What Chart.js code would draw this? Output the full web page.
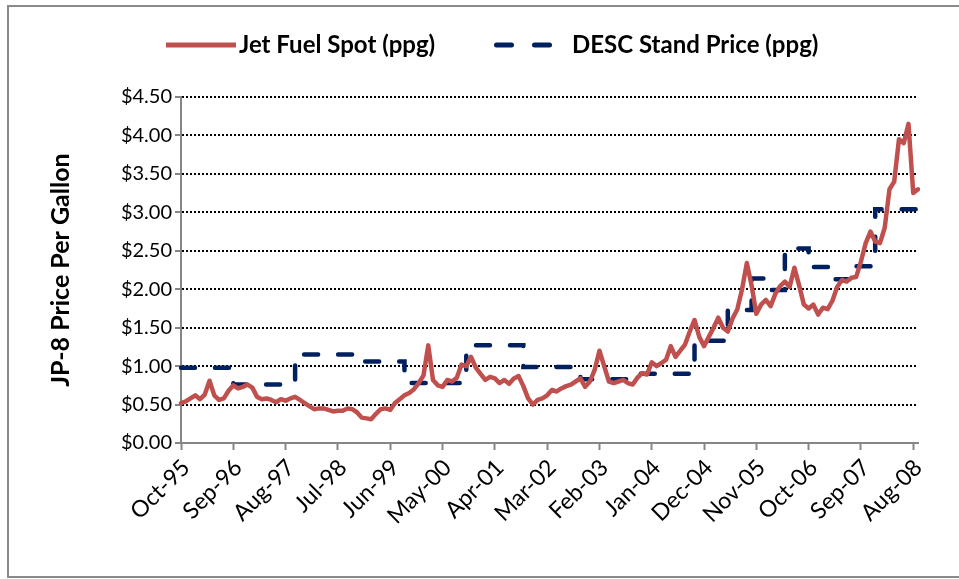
<!DOCTYPE html>
<html>
<head>
<meta charset="utf-8">
<script src="https://cdn.jsdelivr.net/npm/chart.js@4.4.1/dist/chart.umd.min.js"></script>
<style>
  html, body { margin: 0; padding: 0; background: #fff; }
  canvas { display: block; }
</style>
</head>
<body>
<canvas id="fuelChart" width="959" height="579"></canvas>
<script>
// tick labels shown on the x axis (every 11 months)
const tickLabels = ["Oct-95", "Sep-96", "Aug-97", "Jul-98", "Jun-99", "May-00", "Apr-01", "Mar-02",
  "Feb-03", "Jan-04", "Dec-04", "Nov-05", "Oct-06", "Sep-07", "Aug-08"];

// monthly categories Oct-95 .. Sep-08
const monthNames = ["Jan", "Feb", "Mar", "Apr", "May", "Jun", "Jul", "Aug", "Sep", "Oct", "Nov", "Dec"];
const months = [];
for (let i = 0; i < 156; i++) {
  const m = 9 + i;
  const yr = (1995 + Math.floor(m / 12)) % 100;
  months.push(monthNames[m % 12] + "-" + String(yr).padStart(2, "0"));
}

// Jet fuel spot, $ per gallon
const jetFuel = [
  0.52, 0.54, 0.58, 0.62, 0.57, 0.63, 0.81, 0.62, 0.56, 0.58, 0.68, 0.75,
  0.71, 0.73, 0.76, 0.72, 0.60, 0.57, 0.58, 0.56, 0.53, 0.57, 0.55, 0.58,
  0.60, 0.56, 0.52, 0.48, 0.44, 0.45, 0.45, 0.43, 0.41, 0.42, 0.42, 0.45,
  0.44, 0.40, 0.33, 0.32, 0.31, 0.38, 0.44, 0.45, 0.43, 0.52, 0.57, 0.62,
  0.65, 0.70, 0.78, 0.88, 1.27, 0.82, 0.75, 0.73, 0.82, 0.80, 0.85, 1.02,
  1.00, 1.12, 0.98, 0.90, 0.82, 0.86, 0.84, 0.78, 0.82, 0.77, 0.84, 0.87,
  0.74, 0.58, 0.50, 0.56, 0.58, 0.62, 0.69, 0.67, 0.71, 0.74, 0.76, 0.80,
  0.84, 0.73, 0.80, 0.95, 1.20, 1.00, 0.80, 0.78, 0.80, 0.82, 0.78, 0.76,
  0.85, 0.91, 0.89, 1.05, 1.00, 1.04, 1.08, 1.26, 1.12, 1.20, 1.28, 1.45,
  1.60, 1.38, 1.26, 1.38, 1.50, 1.63, 1.50, 1.45, 1.62, 1.74, 2.00, 2.34,
  2.05, 1.68, 1.80, 1.86, 1.78, 1.94, 2.04, 2.10, 2.03, 2.28, 2.05, 1.80,
  1.75, 1.80, 1.67, 1.76, 1.74, 1.85, 2.03, 2.12, 2.10, 2.15, 2.16, 2.36,
  2.60, 2.75, 2.62, 2.60, 2.80, 3.30, 3.40, 3.95, 3.90, 4.15, 3.25, 3.30
];

// DESC standard price, $ per gallon
const descPrice = [
  0.98, 0.98, 0.98, 0.98, 0.98, 0.98, 0.98, 0.98, 0.98, 0.98, 0.98, 0.76,
  0.76, 0.76, 0.76, 0.76, 0.76, 0.76, 0.76, 0.76, 0.76, 0.76, 0.76, 0.76,
  1.15, 1.15, 1.15, 1.15, 1.15, 1.15, 1.15, 1.15, 1.15, 1.15, 1.15, 1.15,
  1.06, 1.06, 1.06, 1.06, 1.06, 1.06, 1.06, 1.06, 1.06, 1.06, 1.06, 0.78,
  0.78, 0.78, 0.78, 0.78, 0.78, 0.78, 0.78, 0.78, 0.78, 0.78, 0.78, 0.78,
  1.27, 1.27, 1.27, 1.27, 1.27, 1.27, 1.27, 1.27, 1.27, 1.27, 1.27, 1.27,
  0.99, 0.99, 0.99, 0.99, 0.99, 0.99, 0.99, 0.99, 0.99, 0.99, 0.99, 0.99,
  0.83, 0.83, 0.83, 0.83, 0.83, 0.83, 0.83, 0.83, 0.83, 0.83, 0.83, 0.83,
  0.90, 0.90, 0.90, 0.90, 0.90, 0.90, 0.90, 0.90, 0.90, 0.90, 0.90, 0.90,
  1.33, 1.33, 1.33, 1.33, 1.33, 1.33, 1.33, 1.73, 1.73, 1.73, 1.73, 1.73,
  2.14, 2.14, 2.14, 1.99, 1.99, 1.99, 1.99, 2.53, 2.53, 2.53, 2.53, 2.53,
  2.29, 2.29, 2.29, 2.29, 2.29, 2.13, 2.13, 2.13, 2.13, 2.13, 2.30, 2.30,
  2.30, 2.30, 3.04, 3.04, 3.04, 3.04, 3.04, 3.04, 3.04, 3.04, 3.04, 3.04
];

const RED = "#C0504D";
const NAVY = "#002060";
const AXIS = "#868686";
const FONT = "Lato";

// white background + outer frame
const framePlugin = {
  id: "frame",
  beforeDraw(chart) {
    const ctx = chart.ctx;
    ctx.save();
    ctx.fillStyle = "#fff";
    ctx.fillRect(0, 0, chart.width, chart.height);
    ctx.strokeStyle = "#8a8a8a";
    ctx.lineWidth = 2;
    ctx.strokeRect(8, 6, 960, 571);
    ctx.restore();
  }
};

// legend drawn across the top like the original
const legendPlugin = {
  id: "topLegend",
  afterDraw(chart) {
    const ctx = chart.ctx;
    const y = 45;
    ctx.save();
    ctx.lineWidth = 5;
    ctx.strokeStyle = RED;
    ctx.lineCap = "butt";
    ctx.beginPath();
    ctx.moveTo(166, y);
    ctx.lineTo(236, y);
    ctx.stroke();

    ctx.strokeStyle = NAVY;
    ctx.lineCap = "round";
    ctx.setLineDash([15, 23]);
    ctx.beginPath();
    ctx.moveTo(496.5, y);
    ctx.lineTo(550.5, y);
    ctx.stroke();
    ctx.setLineDash([]);

    ctx.fillStyle = "#000";
    ctx.font = "bold 24px " + FONT;
    ctx.textBaseline = "middle";
    ctx.textAlign = "left";
    ctx.fillText("Jet Fuel Spot (ppg)", 239, y);
    ctx.fillText("DESC Stand Price (ppg)", 572, y);
    ctx.restore();
  }
};

new Chart(document.getElementById("fuelChart"), {
  type: "line",
  data: {
    labels: months,
    datasets: [
      {
        label: "Jet Fuel Spot (ppg)",
        data: jetFuel,
        borderColor: RED,
        borderWidth: 4.5,
        pointRadius: 0,
        borderJoinStyle: "round",
        borderCapStyle: "round",
        tension: 0
      },
      {
        label: "DESC Stand Price (ppg)",
        data: descPrice,
        borderColor: NAVY,
        borderWidth: 4.5,
        borderDash: [14, 20],
        borderCapStyle: "round",
        pointRadius: 0,
        stepped: true
      }
    ]
  },
  options: {
    responsive: false,
    animation: false,
    layout: { padding: { top: 97, right: 41, left: 0, bottom: 0 } },
    plugins: {
      legend: { display: false },
      tooltip: { enabled: false }
    },
    scales: {
      x: {
        offset: false,
        afterFit(scale) {
          scale.height = 136;
          scale.paddingLeft = 0;
          scale.paddingRight = 0;
        },
        afterBuildTicks(scale) {
          scale.ticks = scale.ticks.filter(t => tickLabels.includes(months[t.value]));
        },
        grid: {
          drawOnChartArea: false,
          drawTicks: true,
          tickLength: 7,
          tickColor: AXIS,
          tickWidth: 2
        },
        border: { color: AXIS, width: 2 },
        ticks: {
          autoSkip: false,
          maxRotation: 45,
          minRotation: 45,
          padding: 4,
          labelOffset: 5,
          color: "#000",
          font: { family: FONT, size: 23 }
        }
      },
      y: {
        min: 0,
        max: 4.5,
        afterFit(scale) {
          scale.width = 181;
          scale.paddingTop = 0;
          scale.paddingBottom = 0;
        },
        grid: {
          color: ctx => (ctx.tick && ctx.tick.value === 0 ? "rgba(0,0,0,0)" : "#000"),
          lineWidth: 2,
          tickLength: 6,
          tickColor: AXIS,
          tickWidth: 2
        },
        border: { color: AXIS, width: 2, dash: [2, 2] },
        ticks: {
          stepSize: 0.5,
          padding: 3,
          color: "#000",
          font: { family: FONT, size: 20 },
          callback: v => "$" + Number(v).toFixed(2)
        },
        title: {
          display: true,
          text: "JP-8 Price Per Gallon",
          color: "#000",
          font: { family: FONT, size: 25, weight: "bold" },
          padding: { top: 46, bottom: 0 }
        }
      }
    }
  },
  plugins: [framePlugin, legendPlugin]
});
</script>
</body>
</html>
